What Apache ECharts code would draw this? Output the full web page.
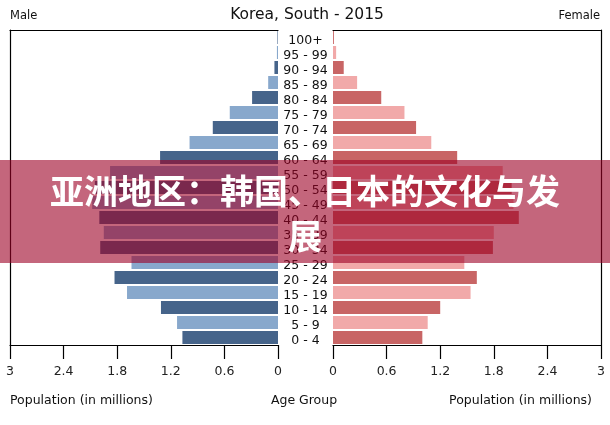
<!DOCTYPE html>
<html>
<head>
<meta charset="utf-8">
<script src="https://cdn.jsdelivr.net/npm/echarts@6/dist/echarts.min.js"></script>
<style>html,body{margin:0;padding:0;background:#fff}#c{width:610px;height:425px}</style>
</head>
<body>
<div id="c"></div>
<script>
const ageGroups = ['0 - 4','5 - 9','10 - 14','15 - 19','20 - 24','25 - 29','30 - 34','35 - 39','40 - 44','45 - 49','50 - 54','55 - 59','60 - 64','65 - 69','70 - 74','75 - 79','80 - 84','85 - 89','90 - 94','95 - 99','100+'];
const maleValues = [1.07,1.13,1.31,1.69,1.83,1.64,1.99,1.95,2.00,2.08,2.05,1.88,1.32,0.99,0.73,0.54,0.29,0.11,0.04,0.012,0.006];
const femaleValues = [1.00,1.06,1.20,1.54,1.61,1.47,1.79,1.80,2.08,2.02,2.00,1.90,1.39,1.10,0.93,0.80,0.54,0.27,0.12,0.035,0.01];
const xTicks = [0,0.6,1.2,1.8,2.4,3];
const chartTitle = 'Korea, South - 2015';
const bannerText = '亚洲地区：韩国、日本的文化与发展';

const FONT = 'DejaVu Sans';
const maleColors = ['#46648a','#88a8cc'];
const femaleColors = ['#c86565','#f1a9a9'];
const xMin = xTicks[0], xMax = xTicks[xTicks.length-1], xStep = xTicks[1]-xTicks[0];

function valueAxis(grid, inverse, pos, showLabels) {
  return {
    type:'value', gridIndex:grid, position:pos, inverse:inverse,
    min:xMin, max:xMax, interval:xStep,
    splitLine:{show:false},
    axisLine:{show:true, lineStyle:{color:'#000', width:1.2}},
    axisTick:{show:showLabels, length:14, lineStyle:{color:'#000', width:1.2}},
    axisLabel:{show:showLabels, margin:20, fontFamily:FONT, fontSize:12.5, color:'#222',
      formatter: v => String(Math.round(v*10)/10)}
  };
}
function catAxis(grid, pos, showLine, showLabels) {
  return {
    type:'category', gridIndex:grid, position:pos, data:ageGroups,
    axisLine:{show:showLine, onZero:false, lineStyle:{color:'#000', width:1.2}},
    axisTick:{show:false},
    axisLabel:{show:showLabels, interval:0, margin:27.5, align:'center',
      formatter: v => '{a|' + v + '}',
      rich:{a:{fontFamily:FONT, fontSize:12.5, color:'#111', padding:[7,0,0,0]}}},
    splitLine:{show:false}
  };
}

const chart = echarts.init(document.getElementById('c'), null, {renderer:'canvas'});
chart.setOption({
  animation:false,
  backgroundColor:'#fff',
  grid:[
    {left:10, top:30, width:268, height:315},
    {left:333, top:30, width:268, height:315}
  ],
  xAxis:[
    valueAxis(0, true, 'bottom', true),
    valueAxis(0, true, 'top', false),
    valueAxis(1, false, 'bottom', true),
    valueAxis(1, false, 'top', false)
  ],
  yAxis:[
    catAxis(0, 'right', false, true),
    catAxis(0, 'left', true, false),
    catAxis(1, 'right', true, false)
  ],
  series:[
    {type:'bar', name:'Male', xAxisIndex:0, yAxisIndex:0, data:maleValues, barCategoryGap:'13%',
      itemStyle:{color: p => maleColors[p.dataIndex % 2]}},
    {type:'bar', name:'Female', xAxisIndex:2, yAxisIndex:2, data:femaleValues, barCategoryGap:'13%',
      itemStyle:{color: p => femaleColors[p.dataIndex % 2]}}
  ],
  graphic:[
    {type:'text', x:307, y:15, style:{text:chartTitle, align:'center', verticalAlign:'middle', textAlign:'center', textVerticalAlign:'middle', fontFamily:FONT, fontSize:15.5, fill:'#111'}},
    {type:'text', x:10, y:16, style:{text:'Male', align:'left', verticalAlign:'middle', textAlign:'left', textVerticalAlign:'middle', fontFamily:FONT, fontSize:11.5, fill:'#111'}},
    {type:'text', x:600, y:16, style:{text:'Female', align:'right', verticalAlign:'middle', textAlign:'right', textVerticalAlign:'middle', fontFamily:FONT, fontSize:11.5, fill:'#111'}},
    {type:'text', x:10, y:401, style:{text:'Population (in millions)', align:'left', verticalAlign:'middle', textAlign:'left', textVerticalAlign:'middle', fontFamily:FONT, fontSize:12.5, fill:'#111'}},
    {type:'text', x:304, y:401, style:{text:'Age Group', align:'center', verticalAlign:'middle', textAlign:'center', textVerticalAlign:'middle', fontFamily:FONT, fontSize:12.5, fill:'#111'}},
    {type:'text', x:592, y:401, style:{text:'Population (in millions)', align:'right', verticalAlign:'middle', textAlign:'right', textVerticalAlign:'middle', fontFamily:FONT, fontSize:12.5, fill:'#111'}},
    {type:'rect', z:100, shape:{x:0, y:160, width:610, height:103}, style:{fill:'rgba(157,0,37,0.6)'}},
    {type:'text', z:101, x:305, y:214, style:{text:bannerText, width:520, overflow:'break', lineHeight:45,
      align:'center', verticalAlign:'middle', textAlign:'center', textVerticalAlign:'middle',
      fontFamily:'Noto Sans CJK SC', fontWeight:'bold', fontSize:34, fill:'#fff'}}
  ]
});
</script>
</body>
</html>
